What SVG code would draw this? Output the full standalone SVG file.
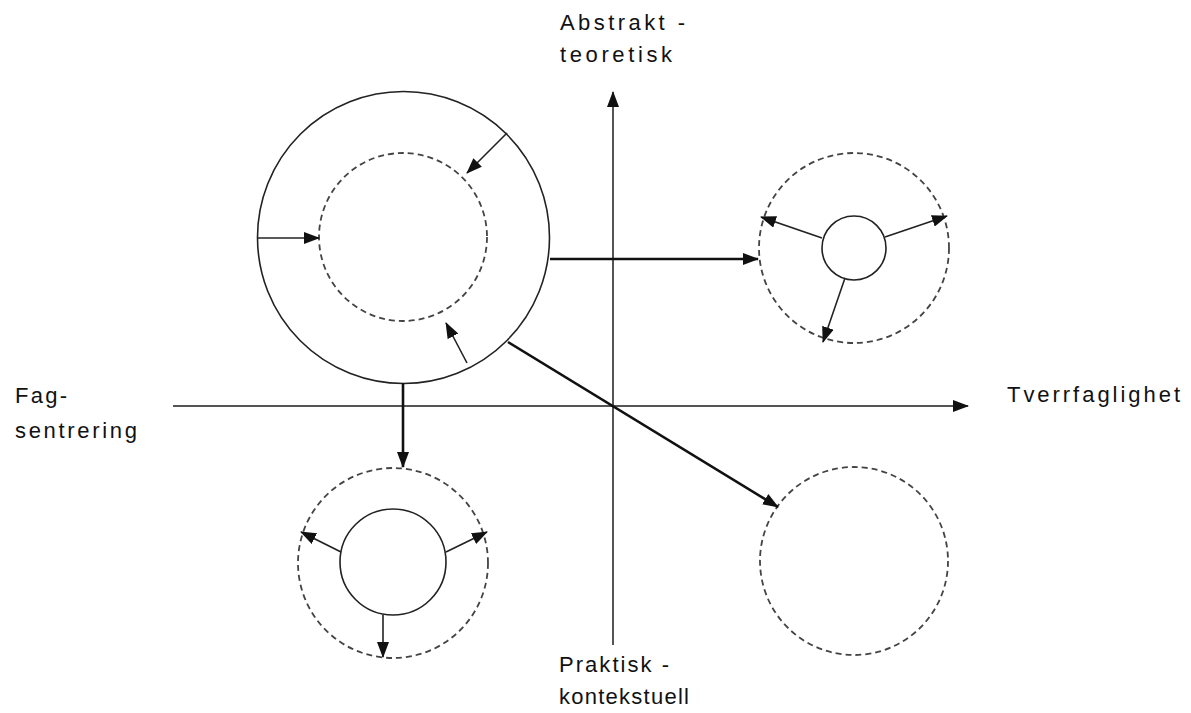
<svg xmlns="http://www.w3.org/2000/svg" width="1191" height="713" viewBox="0 0 1191 713">
  <style>
    .axis { stroke: #555; stroke-width: 2; fill: none; }
    .solid { stroke: #222; stroke-width: 1.6; fill: none; }
    .dashed { stroke: #444; stroke-width: 1.8; fill: none; stroke-dasharray: 6 4; }
    .thin { stroke: #222; stroke-width: 1.6; fill: none; }
    .thick { stroke: #111; stroke-width: 2.6; fill: none; }
    .label { font-family: "Liberation Sans", "DejaVu Sans", sans-serif; font-size: 22px; fill: #111; }
  </style>
  <defs>
    <marker id="head" markerUnits="userSpaceOnUse" markerWidth="16" markerHeight="12" refX="15" refY="6" orient="auto">
      <path d="M0,0 L16,6 L0,12 Z" fill="#111"/>
    </marker>
  </defs>
  <rect width="1191" height="713" fill="#fff"/>

  <!-- axes -->
  <g id="axes">
    <line class="axis" x1="613" y1="645" x2="613" y2="92" marker-end="url(#head)"/>
    <line class="axis" x1="173" y1="406" x2="968" y2="406" marker-end="url(#head)"/>
  </g>

  <!-- axis labels -->
  <g id="label-top">
    <text class="label" x="560" y="30" textLength="125" lengthAdjust="spacing">Abstrakt -</text>
    <text class="label" x="560" y="62" textLength="112" lengthAdjust="spacing">teoretisk</text>
  </g>
  <g id="label-left">
    <text class="label" x="15" y="403" textLength="52" lengthAdjust="spacing">Fag-</text>
    <text class="label" x="15" y="438" textLength="122" lengthAdjust="spacing">sentrering</text>
  </g>
  <g id="label-right">
    <text class="label" x="1007" y="402" textLength="173" lengthAdjust="spacing">Tverrfaglighet</text>
  </g>
  <g id="label-bottom">
    <text class="label" x="559" y="672" textLength="110" lengthAdjust="spacing">Praktisk -</text>
    <text class="label" x="559" y="704" textLength="130" lengthAdjust="spacing">kontekstuell</text>
  </g>

  <!-- large circle with inner dashed core -->
  <g id="node-main">
    <circle class="solid" cx="403.5" cy="237.5" r="146"/>
    <circle class="dashed" cx="403" cy="237" r="84"/>
    <line class="thin" x1="257" y1="238" x2="319" y2="238" marker-end="url(#head)"/>
    <line class="thin" x1="507" y1="133" x2="467" y2="173" marker-end="url(#head)"/>
    <line class="thin" x1="467" y1="363" x2="446" y2="323" marker-end="url(#head)"/>
  </g>

  <!-- upper right: small core radiating out -->
  <g id="node-upper-right">
    <circle class="dashed" cx="854" cy="248" r="95"/>
    <circle class="solid" cx="854" cy="248" r="32"/>
    <line class="thin" x1="822" y1="238" x2="761" y2="217" marker-end="url(#head)"/>
    <line class="thin" x1="885" y1="237" x2="947" y2="216" marker-end="url(#head)"/>
    <line class="thin" x1="845" y1="278" x2="823" y2="342" marker-end="url(#head)"/>
  </g>

  <!-- lower left: larger core radiating out -->
  <g id="node-lower-left">
    <circle class="dashed" cx="393" cy="563" r="95"/>
    <circle class="solid" cx="393" cy="562" r="53"/>
    <line class="thin" x1="341" y1="552" x2="301" y2="532" marker-end="url(#head)"/>
    <line class="thin" x1="446" y1="552" x2="487" y2="532" marker-end="url(#head)"/>
    <line class="thin" x1="383" y1="615" x2="383" y2="657" marker-end="url(#head)"/>
  </g>

  <!-- lower right: empty dashed circle -->
  <g id="node-lower-right">
    <circle class="dashed" cx="854" cy="561" r="94"/>
  </g>

  <!-- connectors from the large circle -->
  <g id="connectors">
    <line class="thick" x1="550" y1="259" x2="758" y2="259" marker-end="url(#head)"/>
    <line class="thick" x1="403" y1="383" x2="403" y2="467" marker-end="url(#head)"/>
    <line class="thick" x1="508" y1="342" x2="778" y2="507" marker-end="url(#head)"/>
  </g>
</svg>
